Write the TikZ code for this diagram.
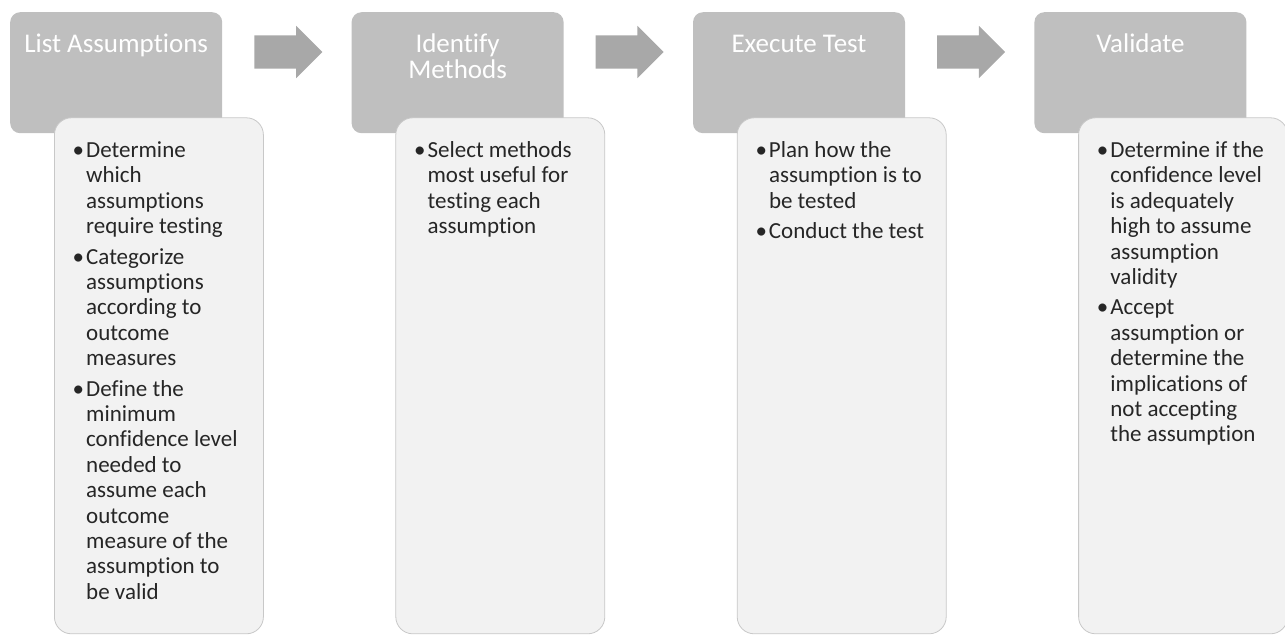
\documentclass[tikz,border=0pt]{standalone}
\usepackage{fontspec}
\setmainfont{Carlito}[Ligatures=NoCommon]
\usetikzlibrary{positioning,shapes.arrows,calc}
\definecolor{hdgray}{HTML}{BFBFBF}
\definecolor{arrgray}{HTML}{A8A8A8}
\definecolor{cardfill}{HTML}{F2F2F2}
\definecolor{cardline}{HTML}{C8C8C8}
\definecolor{bodytext}{HTML}{262626}
\newcommand{\bul}{\leavevmode\llap{\textbullet\hspace{2pt}}}
% top-aligned blocks: baseline on the first line
\newcommand{\headlines}[1]{\parbox[t]{200pt}{\centering #1}}
\newcommand{\cardlines}[1]{\parbox[t]{190pt}{\raggedright #1}}

\begin{document}
\begin{tikzpicture}[x=1pt,y=1pt,node distance=129pt,
  head/.style={fill=hdgray,rounded corners=10pt,text=white,
    inner xsep=6pt,inner ysep=0pt,text height=40pt,text depth=81pt,
    font=\fontsize{27}{26.5}\selectfont},
  card/.style={fill=cardfill,draw=cardline,line width=0.8pt,rounded corners=17pt,
    minimum width=209pt,minimum height=516pt,anchor=north west,inner sep=0pt},
  cardtext/.style={anchor=base west,inner sep=0pt,text=bodytext,
    font=\fontsize{23}{25.4}\selectfont},
  blockarrow/.style={single arrow,fill=arrgray,minimum height=68pt,inner sep=0pt,
    text height=16.5pt,text depth=16.5pt,single arrow head extend=9.5pt}]
\useasboundingbox (0,0) rectangle (1285,-635);

% step headers
\node[head,anchor=north west] (hd1) at (10,-12) {\headlines{List Assumptions}};
\node[head,right=of hd1] (hd2) {\headlines{Identify\\Methods}};
\node[head,right=of hd2] (hd3) {\headlines{Execute Test}};
\node[head,right=of hd3] (hd4) {\headlines{Validate}};

% block arrows between the headers
\foreach \a/\b in {hd1/hd2,hd2/hd3,hd3/hd4}
  \node[blockarrow] (arr-\a) at ([xshift=-7pt,yshift=-40pt]$(\a.north east)!0.5!(\b.north west)$) {};

% detail cards
\node[card] (c1) at ([xshift=44pt,yshift=16pt]hd1.south west) {};
\node[card] (c2) at ([xshift=44pt,yshift=16pt]hd2.south west) {};
\node[card] (c3) at ([xshift=44pt,yshift=16pt]hd3.south west) {};
\node[card] (c4) at ([xshift=44pt,yshift=16pt]hd4.south west) {};

\node[cardtext] (t1) at ([xshift=32pt,yshift=-40pt]c1.north west)
  {\cardlines{\bul Determine\\which\\assumptions\\require testing\\[5pt]
   \bul Categorize\\assumptions\\according to\\outcome\\measures\\[5pt]
   \bul Define the\\minimum\\confidence level\\needed to\\assume each\\outcome\\measure of the\\assumption to\\be valid}};
\node[cardtext] (t2) at ([xshift=32pt,yshift=-40pt]c2.north west)
  {\cardlines{\bul Select methods\\most useful for\\testing each\\assumption}};
\node[cardtext] (t3) at ([xshift=32pt,yshift=-40pt]c3.north west)
  {\cardlines{\bul Plan how the\\assumption is to\\be tested\\[5pt]
   \bul Conduct the test}};
\node[cardtext] (t4) at ([xshift=32pt,yshift=-40pt]c4.north west)
  {\cardlines{\bul Determine if the\\confidence level\\is adequately\\high to assume\\assumption\\validity\\[5pt]
   \bul Accept\\assumption or\\determine the\\implications of\\not accepting\\the assumption}};
\end{tikzpicture}
\end{document}
